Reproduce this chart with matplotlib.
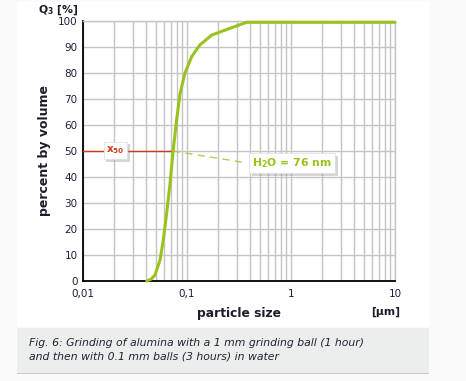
import numpy as np
import matplotlib
matplotlib.use("Agg")
import matplotlib.pyplot as plt
from matplotlib.patches import Rectangle
import matplotlib.patheffects as pe

# Data (particle size in µm, cumulative percent by volume)
size_um = [0.041, 0.0455, 0.0492, 0.055, 0.0592, 0.0637, 0.0687, 0.0735, 0.0795, 0.0857,
           0.0956, 0.111, 0.133, 0.173, 0.259, 0.375, 1.0, 10.0]
q3_pct = [0.0, 0.8, 2.3, 8.0, 15.8, 26.0, 37.5, 50.0, 62.0, 72.0,
          80.0, 86.3, 90.8, 94.6, 97.2, 99.5, 99.5, 99.5]
x50 = 0.0735
x_ticks = [0.01, 0.1, 1, 10]
x_tick_labels = ["0,01", "0,1", "1", "10"]
y_ticks = list(range(0, 101, 10))
caption = ("Fig. 6: Grinding of alumina with a 1 mm grinding ball (1 hour)\n"
           "and then with 0.1 mm balls (3 hours) in water")

W, H = 466, 381
fig = plt.figure(figsize=(W / 100, H / 100), dpi=100)
fig.patch.set_facecolor("#fafafa")

def fx(px):
    return px / W

def fy(py):
    return 1 - py / H

# white panel and caption box
fig.patches.append(Rectangle((fx(17), fy(327)), fx(429) - fx(17), fy(2) - fy(327),
                             transform=fig.transFigure, facecolor="white", edgecolor="none", zorder=-10))
fig.patches.append(Rectangle((fx(17), fy(373)), fx(429) - fx(17), fy(328) - fy(373),
                             transform=fig.transFigure, facecolor="#eceeed", edgecolor="none", zorder=-10))
fig.patches.append(Rectangle((fx(17), fy(374)), fx(429) - fx(17), 1.2 / H,
                             transform=fig.transFigure, facecolor="#c8c8c8", edgecolor="none", zorder=-10))

ax = fig.add_axes([fx(83), fy(281), fx(395) - fx(83), fy(21) - fy(281)])
ax.set_zorder(5)
ax.set_facecolor("white")
ax.set_xscale("log")
ax.set_xlim(0.01, 10)
ax.set_ylim(0, 100)

grid_c = "#c4c4c4"
ax.grid(True, which="both", axis="x", color=grid_c, linewidth=1.0)
ax.grid(True, which="major", axis="y", color=grid_c, linewidth=1.0)
ax.set_axisbelow(True)

ax.set_xticks(x_ticks)
ax.set_xticklabels(x_tick_labels)
ax.set_yticks(y_ticks)
ax.tick_params(axis="both", which="both", length=0, labelsize=7.5, colors="#1c1c3c", pad=4)
ax.tick_params(axis="x", pad=6)
ax.xaxis.set_minor_formatter(matplotlib.ticker.NullFormatter())

for s in ["top", "right"]:
    ax.spines[s].set_color(grid_c)
    ax.spines[s].set_linewidth(1.0)
for s in ["left", "bottom"]:
    ax.spines[s].set_color("black")
    ax.spines[s].set_linewidth(1.3)

green = "#99c31c"
red = "#cc3a1e"

# x50 line
ax.plot([0.01, x50], [50, 50], color=red, linewidth=1.0, zorder=3)
# curve
ax.plot(size_um, q3_pct, color=green, linewidth=2.2, solid_capstyle="round",
        solid_joinstyle="round", zorder=4, clip_on=False)
# dashed leader
ax.plot([x50, 0.378], [50, 45.4], color="#a9cf50", linewidth=1.0, linestyle=(0, (5, 4)), zorder=3)

shadow = [pe.withSimplePatchShadow(offset=(2, -2), shadow_rgbFace="#888888", alpha=0.35)]
t1 = ax.text(0.0205, 50.3, r"$\mathbf{x}_{\mathbf{50}}$", color=red, fontsize=7.5,
             ha="center", va="center", zorder=6,
             bbox=dict(boxstyle="square,pad=0.25", facecolor="white", edgecolor="#dddddd", linewidth=0.5))
t1.get_bbox_patch().set_path_effects(shadow)
t2 = ax.text(1.02, 45.3, r"$\mathbf{H_2O}$ = 76 nm", color=green, fontsize=7.8, fontweight="bold",
             ha="center", va="center", zorder=6,
             bbox=dict(boxstyle="square,pad=0.3", facecolor="white", edgecolor="#dddddd", linewidth=0.5))
t2.get_bbox_patch().set_path_effects(shadow)

lab_c = "#1c1c2c"
fig.text(fx(58), fy(10), r"$\mathbf{Q_3}$ [%]", fontsize=7.8, fontweight="bold", color=lab_c,
         ha="center", va="center")
fig.text(fx(45), fy(150), "percent by volume", fontsize=9, fontweight="bold", color=lab_c,
         rotation=90, ha="center", va="center")
fig.text(fx(239), fy(313), "particle size", fontsize=8.8, fontweight="bold", color=lab_c,
         ha="center", va="center")
fig.text(fx(386), fy(312), "[µm]", fontsize=7.8, fontweight="bold", color=lab_c,
         ha="center", va="center")
fig.text(fx(29), fy(350), caption, fontsize=7.8, style="italic", color="#222233",
         ha="left", va="center", linespacing=1.45)

fig.savefig("out.png", dpi=100, facecolor=fig.get_facecolor())
